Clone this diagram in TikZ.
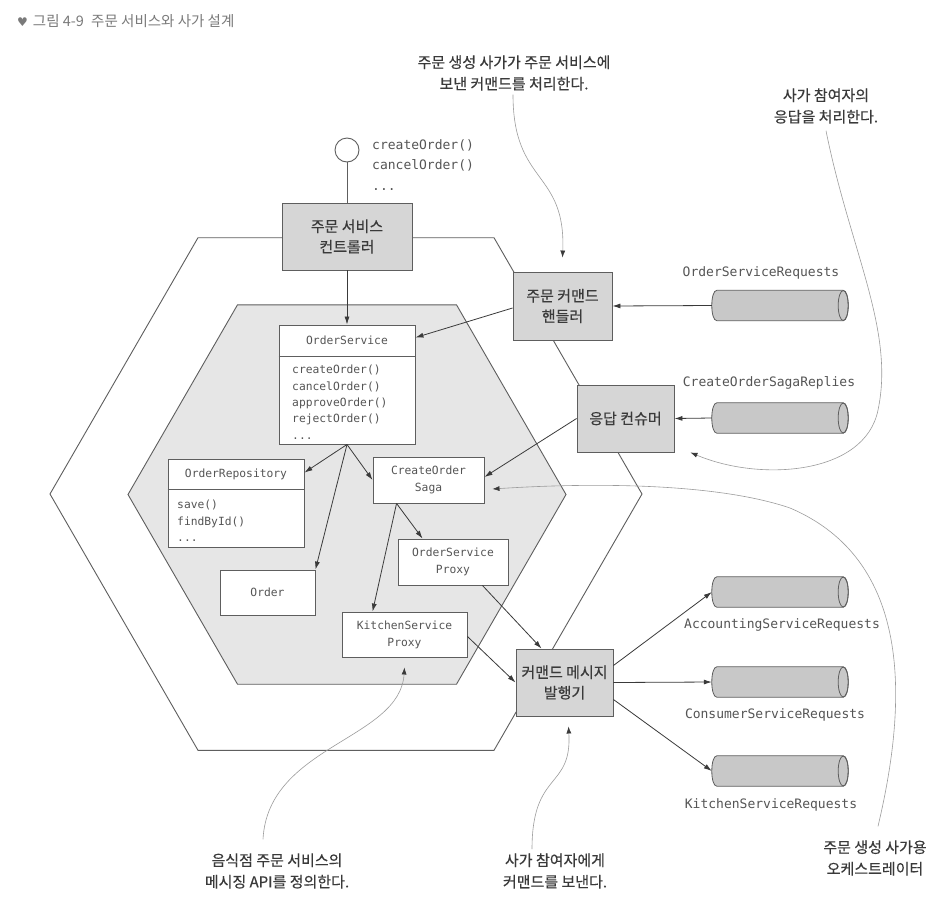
\documentclass[tikz,border=0pt]{standalone}
\usepackage{fontspec}
\setmainfont{Noto Sans CJK KR}
\newfontfamily\hangulfont{Noto Sans CJK KR}[FakeBold=0.4]
\newfontfamily\codefont{DejaVu Sans Mono}
\newfontfamily\symbfont{DejaVu Sans}
\usetikzlibrary{arrows.meta,calc}

\definecolor{edge}{HTML}{5E5E5E}
\definecolor{boxgray}{HTML}{D6D6D6}
\definecolor{hexgray}{HTML}{E6E6E6}
\definecolor{pipegray}{HTML}{C8C8C8}
\definecolor{ink}{HTML}{3A3A3A}
\definecolor{codeink}{HTML}{555555}
\definecolor{note}{HTML}{9C9C9C}
\definecolor{titleink}{HTML}{7A7A7A}

\tikzset{
  kbox/.style={draw=edge, line width=0.9pt, fill=boxgray, inner sep=0pt, align=center,
    text=ink, font=\hangulfont\fontsize{15}{20.5}\selectfont},
  cbox/.style={draw=edge, line width=0.9pt, fill=white, inner sep=0pt, align=center,
    text=codeink, font=\codefont\fontsize{11.3}{17}\selectfont},
  ctext/.style={inner sep=0pt, align=left, text=codeink, font=\codefont\fontsize{11.3}{16.4}\selectfont},
  ptext/.style={inner sep=0pt, align=left, text=codeink, font=\codefont\fontsize{13}{20.5}\selectfont},
  ntext/.style={inner sep=0pt, align=center, text=ink, font=\hangulfont\fontsize{15}{21.5}\selectfont},
  pipe/.style={minimum width=136pt, minimum height=30pt, inner sep=0pt},
  pipebody/.style={fill=pipegray, draw=edge, line width=0.8pt},
  hexline/.style={draw=edge, line width=0.9pt},
  hexin/.style={draw=edge, line width=0.9pt, fill=hexgray},
  flow/.style={draw=ink, line width=0.8pt, -{Latex[length=8pt,width=5pt]}},
  callout/.style={draw=note, line width=0.6pt, -{Latex[length=7pt,width=5pt,color=ink]}},
}

% horizontal message channel drawn as a cylinder around a named node
\newcommand\channel[3]{%
  \node[pipe] (#1) at (#2,#3) {};
  \path[pipebody] ($(#1.north west)+(5,0)$) -- ($(#1.north east)+(-5,0)$)
    .. controls +(6.67,0) and +(6.67,0) .. ($(#1.south east)+(-5,0)$)
    -- ($(#1.south west)+(5,0)$)
    .. controls +(-6.67,0) and +(-6.67,0) .. ($(#1.north west)+(5,0)$) -- cycle;
  \draw[edge, line width=0.8pt] ($(#1.east)+(-5,0)$) ellipse [x radius=5pt, y radius=15pt];
}

\begin{document}
\begin{tikzpicture}[x=1pt,y=-1pt]
\useasboundingbox (0,0) rectangle (947,897);
\fill[white] (0,0) rectangle (947,897);

% title
\node[anchor=west, inner sep=0pt, text=titleink, font=\fontsize{14.5}{17}\selectfont] (title) at (17,21)
  {{\symbfont\fontsize{12}{14}\selectfont ♥}\hspace{5pt}그림 4-9\hspace{4pt} 주문 서비스와 사가 설계};

% outer hexagon (the service) and inner hexagon (business logic)
\draw[hexline] (642,494) -- (494,237.7) -- (198,237.7) -- (50,494) -- (198,750.3) -- (494,750.3) -- cycle;
\path[hexin] (566,494.5) -- (456.5,304.8) -- (237.5,304.8) -- (128,494.5) -- (237.5,684.2) -- (456.5,684.2) -- cycle;

% REST interface
\node[draw=edge, line width=0.9pt, fill=white, circle, minimum size=24pt, inner sep=0pt] (iface) at (347,150) {};
\node[ptext, anchor=north west] (ifops) at (372,139) {createOrder()\\cancelOrder()\\...};

% adapters
\node[kbox, minimum width=130pt, minimum height=67pt] (ctrl) at (347,236.5) {주문 서비스\\컨트롤러};
\node[kbox, minimum width=99pt, minimum height=68pt] (hdl) at (562.5,306) {주문 커맨드\\핸들러};
\node[kbox, minimum width=97pt, minimum height=67pt] (cons) at (625.5,418.5) {응답 컨슈머};
\node[kbox, minimum width=97pt, minimum height=67pt] (pub) at (564.5,682.5) {커맨드 메시지\\발행기};

\draw[edge, line width=0.9pt] (iface.south) -- (ctrl.north);

% OrderService class
\node[cbox, minimum width=136pt, minimum height=119pt] (os) at (347,384.5) {};
\draw[edge, line width=0.9pt] ($(os.north west)+(0,32)$) -- ($(os.north east)+(0,32)$);
\node[inner sep=0pt, text=codeink, font=\codefont\fontsize{11.3}{14}\selectfont] (osname) at ($(os.north)+(0,16)$) {OrderService};
\node[ctext, anchor=north west] (osops) at (292,365) {createOrder()\\cancelOrder()\\approveOrder()\\rejectOrder()\\...};

% OrderRepository class
\node[cbox, minimum width=136pt, minimum height=88pt] (orepo) at (236,503) {};
\draw[edge, line width=0.9pt] ($(orepo.north west)+(0,31)$) -- ($(orepo.north east)+(0,31)$);
\node[inner sep=0pt, text=codeink, font=\codefont\fontsize{11.3}{14}\selectfont] (reponame) at ($(orepo.north)+(0,15.5)$) {OrderRepository};
\node[ctext, anchor=north west] (repoops) at (177,500) {save()\\findById()\\...};

% other classes
\node[cbox, minimum width=111pt, minimum height=46pt] (saga) at (428.5,480) {CreateOrder\\Saga};
\node[cbox, minimum width=95pt, minimum height=45pt] (order) at (267.5,592.5) {Order};
\node[cbox, minimum width=110pt, minimum height=46pt] (osp) at (453,562) {OrderService\\Proxy};
\node[cbox, minimum width=125pt, minimum height=45pt] (ksp) at (404.5,634.5) {KitchenService\\Proxy};

% message channels
\channel{osr}{780}{305.5}
\channel{cosr}{780}{418}
\channel{acc}{780}{592}
\channel{con}{780}{682}
\channel{kit}{780}{771}
\node[ptext] (osrl) at (761,273) {OrderServiceRequests};
\node[ptext] (cosrl) at (769,383) {CreateOrderSagaReplies};
\node[ptext] (accl) at (782,625) {AccountingServiceRequests};
\node[ptext] (conl) at (775,715) {ConsumerServiceRequests};
\node[ptext] (kitl) at (771,805) {KitchenServiceRequests};

% flows
\draw[flow] (ctrl.south) -- (os.north);
\draw[flow] ($(hdl.west)+(0,2)$) -- ($(os.north east)+(0,13)$);
\draw[flow] (osr.west) -- (hdl.east);
\draw[flow] (cosr.west) -- (cons.east);
\draw[flow] (cons.west) -- ($(saga.east)+(0,-3)$);
\draw[flow] (os.south) -- ($(orepo.north east)+(0,14)$);
\draw[flow] (os.south) -- (order.north east);
\draw[flow] (os.south) -- (saga.west);
\draw[flow] ($(saga.south west)+(24,0)$) -- ($(osp.north west)+(25,0)$);
\draw[flow] ($(saga.south west)+(24,0)$) -- ($(ksp.north west)+(31,0)$);
\draw[flow] ($(osp.south east)+(-26,0)$) -- ($(pub.north west)+(26,0)$);
\draw[flow] ($(ksp.east)+(0,2)$) -- (pub.west);
\draw[flow] ($(pub.east)+(0,-17)$) -- (acc.west);
\draw[flow] (pub.east) -- (con.west);
\draw[flow] ($(pub.east)+(0,17)$) -- (kit.west);

% annotations
\node[ntext] (n1) at (514,73) {주문 생성 사가가 주문 서비스에\\보낸 커맨드를 처리한다.};
\node[ntext] (n2) at (826,106) {사가 참여자의\\응답을 처리한다.};
\node[ntext] (n3) at (277,871) {음식점 주문 서비스의\\메시징 API를 정의한다.};
\node[ntext] (n4) at (555,871) {사가 참여자에게\\커맨드를 보낸다.};
\node[ntext] (n5) at (875,858) {주문 생성 사가용\\오케스트레이터};

\draw[callout] ($(n1.south)+(-1,4)$) .. controls (513,185) and (566,170) .. ($(hdl.north)+(0,-14)$);
\draw[callout] ($(n2.south)+(0,7)$) .. controls (850,250) and (895,330) .. (878,410)
  .. controls (865,475) and (760,482) .. ($(cons.south east)+(16,0)$);
\draw[callout] ($(n3.north)+(-14,-14)$) .. controls (268,745) and (400,740) .. ($(ksp.south)+(0,10)$);
\draw[callout] ($(n4.north)+(-23,-4)$) .. controls (532,770) and (572,790) .. ($(pub.south)+(4,10)$);
\draw[callout] ($(n5.north)+(3,-14)$) .. controls (908,700) and (912,560) .. (790,508)
  .. controls (720,484) and (600,482) .. ($(saga.east)+(8,9)$);
\end{tikzpicture}
\end{document}
